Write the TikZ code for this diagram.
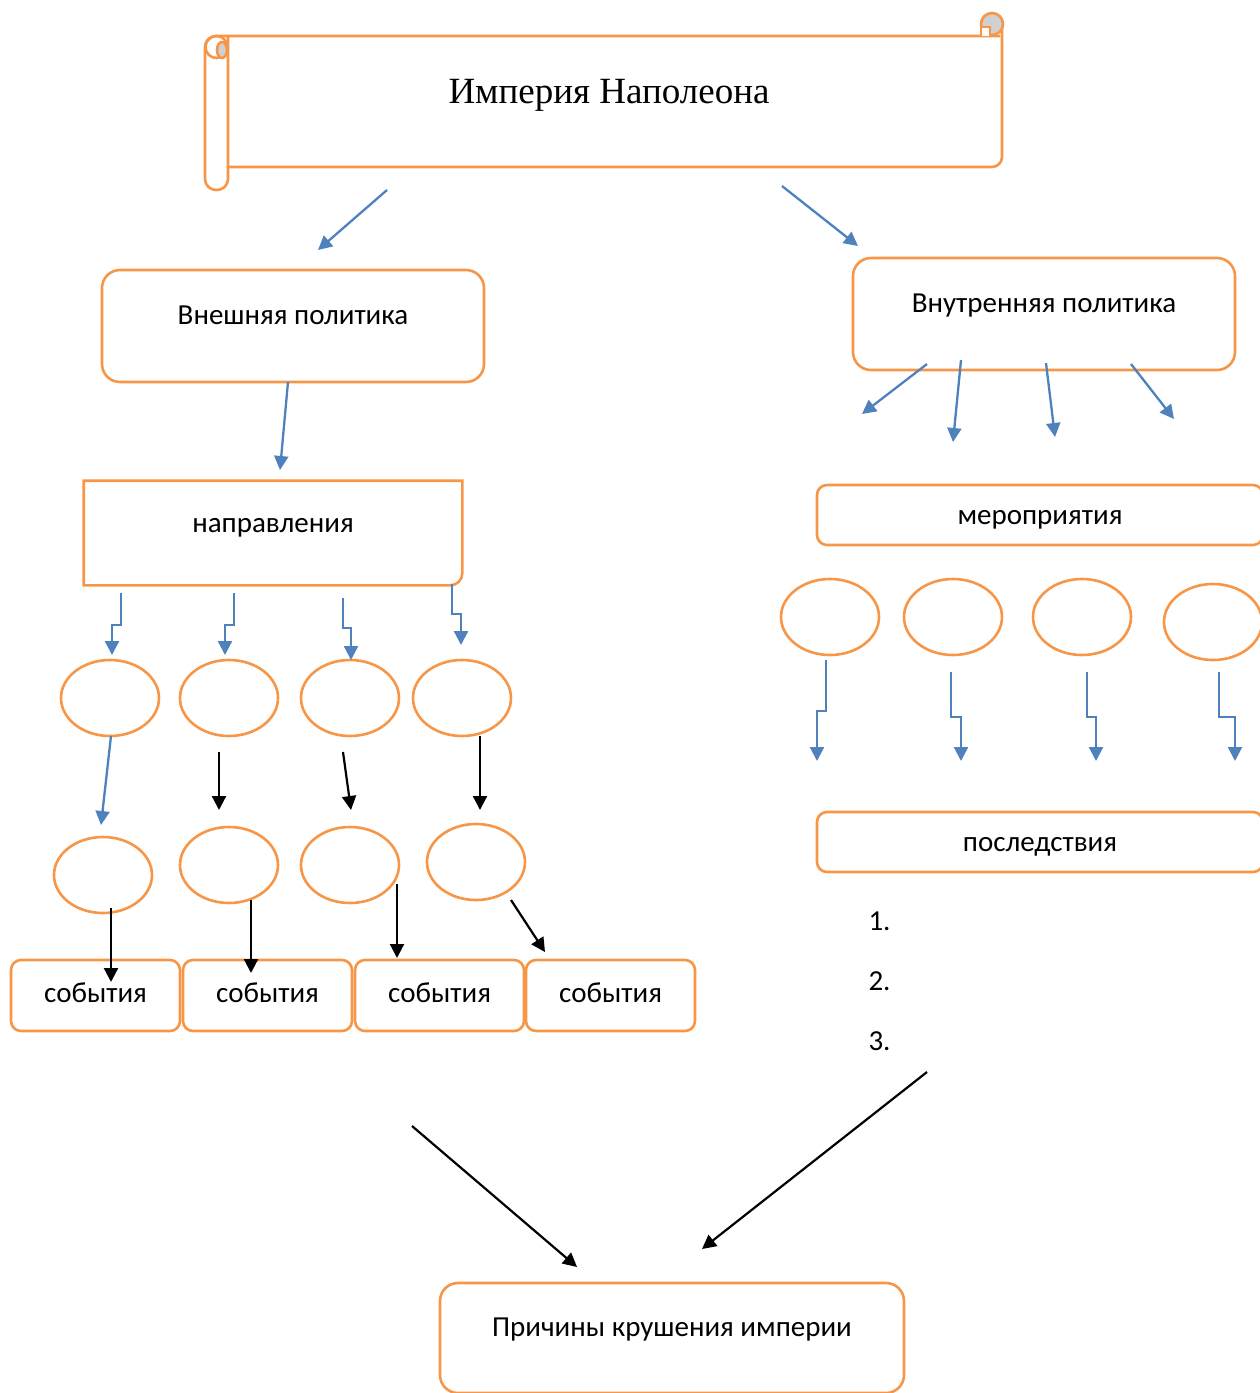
\documentclass[tikz,border=0pt]{standalone}
\usepackage{fontspec}
\setmainfont{Carlito}
\newfontfamily\titlefont{Liberation Serif}
\usetikzlibrary{arrows.meta,shapes.geometric}
\definecolor{cOrange}{RGB}{247,150,70}
\definecolor{cBlue}{RGB}{79,129,189}
\definecolor{cGray}{RGB}{208,208,208}

\begin{document}
\begin{tikzpicture}[x=1pt,y=-1pt,
        scroll/.style={draw=cOrange,line width=2.6pt},
        box/.style={draw=cOrange,line width=2.6pt,rounded corners=18pt,inner sep=0pt,
            font=\fontsize{29}{32}\selectfont,text height=25pt,text depth=6pt},
        oval/.style={draw=cOrange,line width=2.6pt,ellipse,inner sep=0pt,
            minimum width=98pt,minimum height=76pt},
        barrow/.style={draw=cBlue,line width=2.3pt,-{Triangle[length=14pt,width=14pt]}},
        karrow/.style={draw=black,line width=2.2pt,-{Triangle[length=14pt,width=14pt]}}]
        \useasboundingbox (0,0) rectangle (1260,1393);

        % scroll
        \draw[scroll,rounded corners=10pt] (228,167) -- (1002,167) -- (1002,24);
        \draw[scroll,rounded corners=11pt] (1000,36) -- (205,36) -- (205,190) -- (228,190) -- (228,36);
        \draw[scroll] (216.5,47) circle[radius=11];
        \draw[scroll,fill=cGray] (222,50) ellipse[x radius=5,y radius=8];
        \draw[scroll,fill=cGray] (992,24) circle[radius=11];
        \draw[scroll,fill=white] (981,36) -- (981,27) -- (990,27) -- (990,36);
        \node[font=\titlefont\fontsize{37}{40}\selectfont] (title) at (609,95) {Империя Наполеона};

        % boxes
        \node[box,minimum width=382pt,minimum height=112pt,text depth=28pt] (outer) at (293,326) {Внешняя политика};
        \node[box,minimum width=382pt,minimum height=112pt,text depth=28pt] (inner) at (1044,314) {Внутренняя политика};
        \node[box,draw=none,minimum width=376pt,minimum height=102pt,text depth=26pt] (dir) at (273,533) {направления};
        \draw[scroll] (dir.south west) -- (dir.north west) -- (dir.north east)
            [rounded corners=12pt] -- (dir.south east) [sharp corners] -- (dir.south west) -- cycle;
        \node[box,rounded corners=10pt,minimum width=446pt,minimum height=60pt] (meas) at (1040,515) {мероприятия};
        \node[box,rounded corners=10pt,minimum width=446pt,minimum height=60pt] (cons) at (1040,842) {последствия};
        \node[box,minimum width=464pt,minimum height=110pt,text depth=28pt] (fall) at (672,1338) {Причины крушения империи};

        \node[box,rounded corners=10pt,minimum width=169pt,minimum height=71pt,text depth=12pt] (ev1) at (95.5,995.5) {события};
        \node[box,rounded corners=10pt,minimum width=169pt,minimum height=71pt,text depth=12pt] (ev2) at (267.5,995.5) {события};
        \node[box,rounded corners=10pt,minimum width=169pt,minimum height=71pt,text depth=12pt] (ev3) at (439.5,995.5) {события};
        \node[box,rounded corners=10pt,minimum width=169pt,minimum height=71pt,text depth=12pt] (ev4) at (610.5,995.5) {события};

        % ovals
        \node[oval] (a1) at (110,698) {};
        \node[oval] (a2) at (229,698) {};
        \node[oval] (a3) at (350,698) {};
        \node[oval] (a4) at (462,698) {};
        \node[oval] (b1) at (103,875) {};
        \node[oval] (b2) at (229,865) {};
        \node[oval] (b3) at (350,865) {};
        \node[oval] (b4) at (476,862) {};
        \node[oval] (c1) at (830,617) {};
        \node[oval] (c2) at (953,617) {};
        \node[oval] (c3) at (1082,617) {};
        \node[oval] (c4) at (1213,622) {};

        % list
        \node[font=\fontsize{29}{32}\selectfont,anchor=west] (n1) at (865,921) {1.};
        \node[font=\fontsize{29}{32}\selectfont,anchor=west] (n2) at (865,981) {2.};
        \node[font=\fontsize{29}{32}\selectfont,anchor=west] (n3) at (865,1041) {3.};

        % arrow ends
        \coordinate (t1) at (387,190); \coordinate (t1e) at (318,250);
        \coordinate (t2) at (782,186); \coordinate (t2e) at (858,246);
        \coordinate (o1) at (288,382); \coordinate (o1e) at (280,470);
        \coordinate (i1) at (927,364); \coordinate (i1e) at (862,414);
        \coordinate (i2) at (961,360); \coordinate (i2e) at (953,442);
        \coordinate (i3) at (1046,363); \coordinate (i3e) at (1055,437);
        \coordinate (i4) at (1131,364); \coordinate (i4e) at (1174,419);
        \coordinate (d1) at (121,593); \coordinate (d1e) at (112,655);
        \coordinate (d2) at (234,593); \coordinate (d2e) at (225,655);
        \coordinate (d3) at (343,598); \coordinate (d3e) at (351,660);
        \coordinate (d4) at (452,584); \coordinate (d4e) at (461,645);
        \coordinate (m1) at (826,660); \coordinate (m1e) at (817,761);
        \coordinate (m2) at (951,672); \coordinate (m2e) at (961,761);
        \coordinate (m3) at (1087,672); \coordinate (m3e) at (1096,761);
        \coordinate (m4) at (1219,672); \coordinate (m4e) at (1235,761);
        \coordinate (k1) at (111,736); \coordinate (k1e) at (101,825);
        \coordinate (k2) at (219,752); \coordinate (k2e) at (219,810);
        \coordinate (k3) at (343,752); \coordinate (k3e) at (351,810);
        \coordinate (k4) at (480,736); \coordinate (k4e) at (480,810);
        \coordinate (e1) at (111,908); \coordinate (e1e) at (111,982);
        \coordinate (e2) at (251,900); \coordinate (e2e) at (251,973);
        \coordinate (e3) at (397,884); \coordinate (e3e) at (397,958);
        \coordinate (e4) at (511,900); \coordinate (e4e) at (545,952);
        \coordinate (f1) at (412,1126); \coordinate (f1e) at (577,1267);
        \coordinate (f2) at (927,1072); \coordinate (f2e) at (702,1249);

        % blue arrows
        \draw[barrow] (t1) -- (t1e);
        \draw[barrow] (t2) -- (t2e);
        \draw[barrow] (o1) -- (o1e);
        \draw[barrow] (i1) -- (i1e);
        \draw[barrow] (i2) -- (i2e);
        \draw[barrow] (i3) -- (i3e);
        \draw[barrow] (i4) -- (i4e);
        \draw[barrow] (d1) -- ++(0,32) -| (d1e);
        \draw[barrow] (d2) -- ++(0,32) -| (d2e);
        \draw[barrow] (d3) -- ++(0,30) -| (d3e);
        \draw[barrow] (d4) -- ++(0,30) -| (d4e);
        \draw[barrow] (m1) -- ++(0,51) -| (m1e);
        \draw[barrow] (m2) -- ++(0,45) -| (m2e);
        \draw[barrow] (m3) -- ++(0,45) -| (m3e);
        \draw[barrow] (m4) -- ++(0,45) -| (m4e);
        \draw[barrow] (k1) -- (k1e);

        % black arrows
        \draw[karrow] (k2) -- (k2e);
        \draw[karrow] (k3) -- (k3e);
        \draw[karrow] (k4) -- (k4e);
        \draw[karrow] (e1) -- (e1e);
        \draw[karrow] (e2) -- (e2e);
        \draw[karrow] (e3) -- (e3e);
        \draw[karrow] (e4) -- (e4e);
        \draw[karrow] (f1) -- (f1e);
        \draw[karrow] (f2) -- (f2e);
    \end{tikzpicture}
\end{document}
